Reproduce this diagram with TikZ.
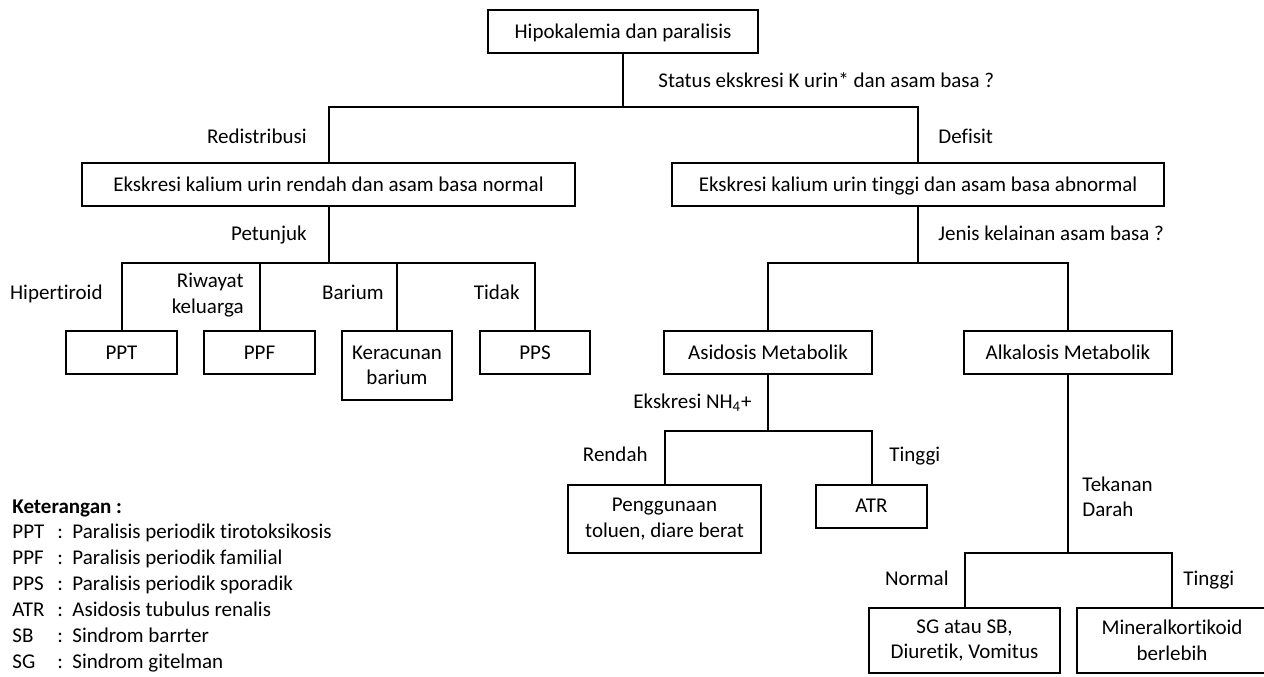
\documentclass[tikz,border=0pt]{standalone}
\usepackage{fontspec}
\setmainfont{Carlito}[Ligatures=NoCommon]
\tikzset{
  bx/.style={draw,line width=1pt,inner sep=0pt,align=center,minimum height=21.5pt},
  one/.style={bx,text height=6.8pt,text depth=0pt},
  ln/.style={line width=1pt},
  lbl/.style={inner sep=0pt}
}

\begin{document}
\begin{tikzpicture}[x=0.5pt,y=-0.5pt,font=\fontsize{10.5}{12.75}\selectfont]
\useasboundingbox (0,0) rectangle (1264,676);
\node[one,minimum width=135pt] (top) at (623,31.5) {Hipokalemia dan paralisis};
\node[one,minimum width=246.5pt] (lbox) at (328.5,184.5) {Ekskresi kalium urin rendah dan asam basa normal};
\node[one,minimum width=246pt] (rbox) at (918,184.5) {Ekskresi kalium urin tinggi dan asam basa abnormal};
\node[one,minimum width=55.5pt] (ppt) at (121.5,352.5) {PPT};
\node[one,minimum width=55.5pt] (ppf) at (259.5,352.5) {PPF};
\node[bx,minimum width=55pt,minimum height=34.5pt] (ker) at (397,365.5) {Keracunan\\barium};
\node[one,minimum width=55pt] (pps) at (535,352.5) {PPS};
\node[one,minimum width=104pt] (asid) at (768,352.5) {Asidosis Metabolik};
\node[one,minimum width=104pt] (alk) at (1068,352.5) {Alkalosis Metabolik};
\node[bx,minimum width=96.5pt,minimum height=34pt] (peng) at (664.5,519) {Penggunaan\\toluen, diare berat};
\node[one,minimum width=55.5pt] (atr) at (871.5,506) {ATR};
\node[bx,minimum width=95.5pt,minimum height=32.5pt] (sg) at (964.5,640.5) {SG atau SB,\\Diuretik, Vomitus};
\node[bx,minimum width=95.5pt,minimum height=32.5pt] (mk) at (1172,640.5) {Mineralkortikoid\\berlebih};

\draw[ln] (top.south) -- ++(0,53) coordinate (j1);
\draw[ln] (lbox.north) |- (j1) -| (rbox.north);
\draw[ln] (lbox.south) -- ++(0,56) coordinate (j2);
\draw[ln] (ppt.north) |- (j2) -| (pps.north);
\draw[ln] (ppf.north) -- (ppf.north |- j2);
\draw[ln] (ker.north) -- (ker.north |- j2);
\draw[ln] (rbox.south) -- ++(0,56) coordinate (j3);
\draw[ln] (asid.north) |- (j3) -| (alk.north);
\draw[ln] (asid.south) -- ++(0,56) coordinate (j4);
\draw[ln] (peng.north) |- (j4) -| (atr.north);
\draw[ln] (alk.south) -- ++(0,178) coordinate (j5);
\draw[ln] (sg.north) |- (j5) -| (mk.north);

\node[lbl,anchor=base west] (q1) at (658,87) {Status ekskresi K urin* dan asam basa ?};
\node[lbl,anchor=base east] (redis) at (307,143) {Redistribusi};
\node[lbl,anchor=base west] (def) at (938,143) {Defisit};
\node[lbl,anchor=base east] (ptj) at (307,240) {Petunjuk};
\node[lbl,anchor=base west] (q2) at (938,240) {Jenis kelainan asam basa ?};
\node[lbl,anchor=base east] (hip) at (103,299) {Hipertiroid};
\node[lbl,anchor=east,align=right] (riw) at (244,295) {Riwayat\\keluarga};
\node[lbl,anchor=base east] (bar) at (384,299) {Barium};
\node[lbl,anchor=base east] (tdk) at (520,299) {Tidak};
\node[lbl,anchor=base east] (nh) at (752,408) {Ekskresi NH\textsubscript{4}+};
\node[lbl,anchor=base east] (ren) at (648,461) {Rendah};
\node[lbl,anchor=base west] (tg1) at (889,461) {Tinggi};
\node[lbl,anchor=west,align=left] (td) at (1082,497) {Tekanan\\Darah};
\node[lbl,anchor=base east] (nor) at (949,585) {Normal};
\node[lbl,anchor=base west] (tg2) at (1183,585) {Tinggi};

\node[lbl,anchor=base west] (ket) at (12,513) {\textbf{Keterangan :}};
\foreach \ab/\ds [count=\i] in {PPT/Paralisis periodik tirotoksikosis,PPF/Paralisis periodik familial,PPS/Paralisis periodik sporadik,ATR/Asidosis tubulus renalis,SB/Sindrom barrter,SG/Sindrom gitelman}{
  \node[lbl,anchor=base west] (ab\i) at (12,512+26*\i) {\ab};
  \node[lbl,anchor=base west] (cl\i) at (57,512+26*\i) {:};
  \node[lbl,anchor=base west] (ds\i) at (72,512+26*\i) {\ds};
}
\end{tikzpicture}
\end{document}
